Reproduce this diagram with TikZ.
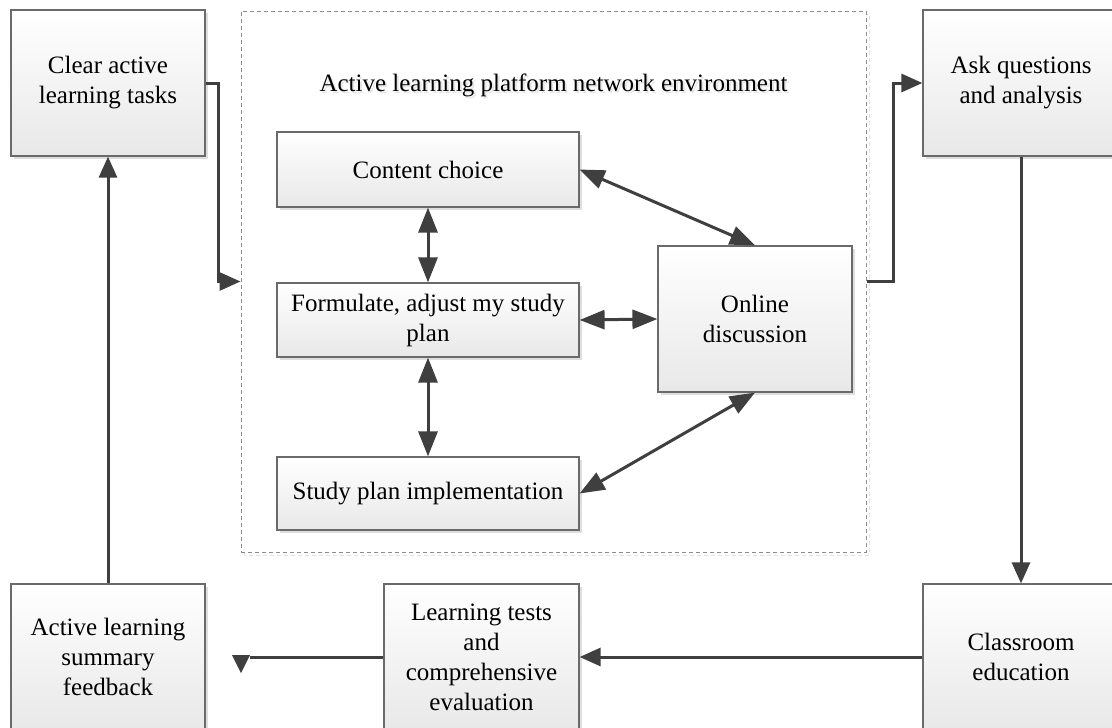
\documentclass[tikz,border=0pt]{standalone}
\usepackage{fontspec}
\setmainfont{Liberation Serif}
\usetikzlibrary{arrows.meta,shadows,calc}

\definecolor{boxline}{HTML}{6A6A6A}
\definecolor{boxbottom}{HTML}{E8E8E8}
\definecolor{arrowgray}{HTML}{3F3F3F}
\definecolor{dashgray}{HTML}{8C8C8C}

\tikzset{
  box/.style={draw=boxline, line width=1.2pt, top color=white, bottom color=boxbottom,
    align=center, inner sep=2pt,
    font=\fontsize{25}{30}\selectfont,
    drop shadow={shadow xshift=3pt, shadow yshift=-3pt, fill=black!13, opacity=1}},
  flow/.style={draw=arrowgray, line width=3pt, -{Triangle[length=21pt,width=18pt]}},
  both/.style={draw=arrowgray, line width=3pt,
    {Triangle[length=25pt,width=19pt]}-{Triangle[length=25pt,width=19pt]}},
  plain/.style={draw=arrowgray, line width=3pt}
}

\begin{document}
\begin{tikzpicture}[x=1pt,y=-1pt]
  \useasboundingbox (0,0) rectangle (1112,728);

  % platform frame with its faint shadow
  \draw[black!12, line width=1pt, dash pattern=on 4pt off 3pt] (244,14) rectangle (869,555);
  \node[draw=dashgray, line width=1pt, dash pattern=on 4pt off 3pt, fill=white,
        minimum width=625pt, minimum height=541pt, inner sep=0pt] (platform) at (553.5,281.5) {};
  \node[text=black!10, font=\fontsize{25}{30}\selectfont] (titleshadow) at (555.5,87) {Active learning platform network environment};
  \node[font=\fontsize{25}{30}\selectfont] (title) at (553.5,85) {Active learning platform network environment};

  % outer cycle
  \node[box, minimum width=194pt, minimum height=146pt] (clear) at (108,83) {Clear active\\learning tasks};
  \node[box, minimum width=196pt, minimum height=146pt] (ask) at (1021,83) {Ask questions\\and analysis};
  \node[box, minimum width=196pt, minimum height=146pt] (class) at (1021,657) {Classroom\\education};
  \node[box, minimum width=195pt, minimum height=146pt] (tests) at (481.5,657) {Learning tests\\and\\comprehensive\\evaluation};
  \node[box, minimum width=194pt, minimum height=146pt] (summary) at (108,657) {Active learning\\summary\\feedback};

  % platform contents
  \node[box, minimum width=302pt, minimum height=75pt] (content) at (428,169.5) {Content choice};
  \node[box, minimum width=302pt, minimum height=74pt] (formulate) at (428,320) {Formulate, adjust my study\\plan};
  \node[box, minimum width=302pt, minimum height=73pt] (study) at (428,493.5) {Study plan implementation};
  \node[box, minimum width=194pt, minimum height=146pt] (online) at (755,319) {Online\\discussion};

  % inner connections
  \draw[both] (content.east) -- (online.north);
  \draw[both] (content.south) -- (formulate.north);
  \draw[both] (formulate.east) -- (online.west);
  \draw[both] (formulate.south) -- (study.north);
  \draw[both] (study.east) -- (online.south);

  % outer connections
  \draw[flow] (clear.east) -- ++(13,0) |- (platform.west);
  \draw[flow] (platform.east) -- ++(27,0) |- (ask.west);
  \draw[flow] (ask.south) -- (class.north);
  \draw[flow] (class.west) -- (tests.east);
  \coordinate (tipend) at (250,657);
  \draw[plain] (tests.west) -- (tipend);
  \fill[arrowgray] (232,655) -- (250,655) -- (241,673) -- cycle;
  \draw[flow] (summary.north) -- (clear.south);
\end{tikzpicture}
\end{document}
